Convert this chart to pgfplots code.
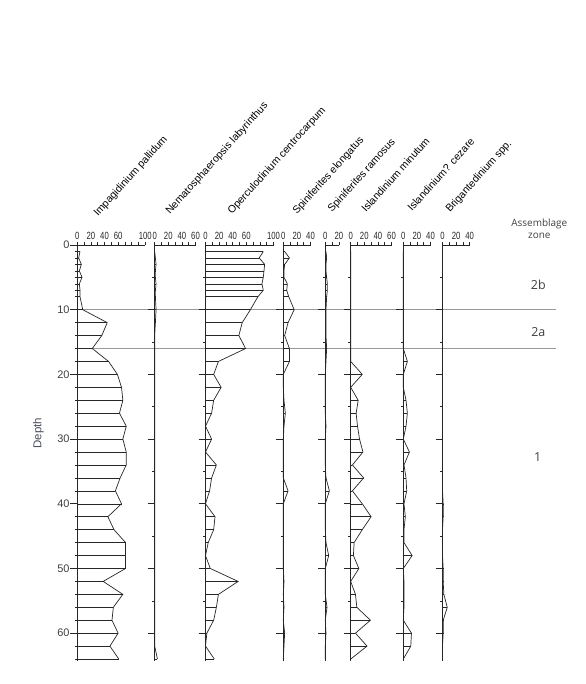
\documentclass[border=0pt]{standalone}
\usepackage{pgfplots}
\pgfplotsset{compat=1.18}
\usepackage{pgfplotstable}
\usepackage{fontspec}
\setmainfont{Liberation Sans}
\newfontfamily\narrow[FakeStretch=0.74]{Liberation Sans}
\newfontfamily\zonefont{Open Sans}
\definecolor{depthcol}{RGB}{72,76,92}

\pgfplotstableread{
depth imp nem ope spe spr ism isc bri
1  4  0  85 2  1   0   0  0
2  2  1  79 9  2   0   0  0
3  6  2  87 2  1   0   0  0
4  3  1  86 1  1   0   0  0
5  7  1  85 1  2   0   0  0
6  3  2  83 6  3   0   0  0
7  4  1  85 5  3   0   0  0
8  4  1  77 8  2   0   0  0
10 8  2  66 16 1   0   0  0
12 44 1  54 7  1   0   0  0
14 36 0  49 2  1   0   0  0
16 22 0  59 9  2   0   0  0
18 46 0  19 9  1   0   6  0
20 59 0  12 0  0   17  0  0
22 65 0  23 0  0   0   0  0
24 67 0  12 1  0   11  4  0
26 62 0  9  3  0   8   6  0
28 72 0  0  1  1   10  4  0
30 67 0  9  0  0   13  0  0
32 72 0  0  0  0   18  9  0
34 72 0  16 0  0   2.5 1  0
36 63 0  9  0  1   19  4  0
38 56 0  6  7  6   2.5 5  0
40 65 0  0  0  0   17  1  1
42 45 0  14 0  0   30  3  1
44 54 0  12 0  0   17  1  0
46 71 0  4  0  1   5   1  0
48 71 0  0  0  5   4   13 0
50 71 0  7  0  0   12  0  1
52 38 0  48 1  0   0   1  1
54 67 0  19 0  0   7   1  2
56 53 0  16 1  2.5 9   1  7
58 51 0  12 0  0   29  0  1
60 60 0  2  2  1   7   12 1
62 48 0  0  1  0   24  11 0
64 61 4  13 0  0   0   0  0
}\data

\pgfplotsset{
  panel/.style={
    scale only axis, y dir=reverse, ymin=0, ymax=64.3, height=416bp, xmin=0,
    anchor=north west,
    axis x line*=top, axis y line*=left,
    axis line style={black!85, line width=0.7bp},
    tick align=outside,
    xtick style={black!85, line width=0.6bp, /pgfplots/major tick length=3bp},
    ytick style={black!85, line width=0.6bp, /pgfplots/major tick length=7bp, /pgfplots/minor tick length=2.5bp},
    ytick={10,20,...,60}, minor ytick={5,15,...,55}, yticklabels={},
    x tick label style={font=\narrow\fontsize{10.5}{10.5}\selectfont, text=black!85, inner sep=1bp},
    clip=false,
  },
  comb/.style={xcomb, black!85, line width=0.55bp},
  curve/.style={black!85, line width=0.7bp},
}

\begin{document}
\begin{tikzpicture}
\useasboundingbox (0bp,0bp) rectangle (586bp,684bp);

% zone lines
\draw[black!40, line width=0.6bp] (73bp,374.3bp) -- (556bp,374.3bp);
\draw[black!40, line width=0.6bp] (77bp,335.5bp) -- (556bp,335.5bp);

% 1 Impagidinium pallidum
\begin{axis}[panel, at={(77.3bp,439bp)}, width=68bp, xmax=100,
  xtick={0,10,...,100}, xticklabels={0,,20,,40,,60,,,,100},
  ytick={0,10,...,60}, yticklabels={0,10,20,30,40,50,60},
  minor ytick={1,2,3,4,5,6,7,8,12,14,16,18,22,24,26,28,32,34,36,38,42,44,46,48,52,54,56,58,62,64},
  y tick label style={font=\fontsize{11}{11}\selectfont, text=black!75}]
\addplot[comb] table[x=imp,y=depth]{\data};
\addplot[curve] table[x=imp,y=depth]{\data};
\end{axis}

% 2 Nematosphaeropsis labyrinthus
\begin{axis}[panel, at={(154.7bp,439bp)}, width=40.8bp, xmax=60,
  xtick={0,10,...,60}, xticklabels={0,,20,,40,,60}]
\addplot[comb] table[x=nem,y=depth]{\data};
\addplot[curve] table[x=nem,y=depth]{\data};
\end{axis}

% 3 Operculodinium centrocarpum
\begin{axis}[panel, at={(205.5bp,439bp)}, width=68bp, xmax=100,
  xtick={0,10,...,100}, xticklabels={0,,20,,40,,60,,,,100}]
\addplot[comb] table[x=ope,y=depth]{\data};
\addplot[curve] table[x=ope,y=depth]{\data};
\end{axis}

% 4 Spiniferites elongatus
\begin{axis}[panel, at={(283.3bp,439bp)}, width=27.2bp, xmax=40,
  xtick={0,10,...,40}, xticklabels={0,,20,,40}]
\addplot[comb] table[x=spe,y=depth]{\data};
\addplot[curve] table[x=spe,y=depth]{\data};
\end{axis}

% 5 Spiniferites ramosus
\begin{axis}[panel, at={(325.3bp,439bp)}, width=13.6bp, xmax=20,
  xtick={0,10,20}, xticklabels={0,,20}]
\addplot[comb] table[x=spr,y=depth]{\data};
\addplot[curve] table[x=spr,y=depth]{\data};
\end{axis}

% 6 Islandinium minutum
\begin{axis}[panel, at={(350.7bp,439bp)}, width=40.8bp, xmax=60,
  xtick={0,10,...,60}, xticklabels={0,,20,,40,,60}]
\addplot[comb] table[x=ism,y=depth]{\data};
\addplot[curve] table[x=ism,y=depth]{\data};
\end{axis}

% 7 Islandinium? cezare
\begin{axis}[panel, at={(403.3bp,439bp)}, width=27.2bp, xmax=40,
  xtick={0,10,...,40}, xticklabels={0,,20,,40}]
\addplot[comb] table[x=isc,y=depth]{\data};
\addplot[curve] table[x=isc,y=depth]{\data};
\end{axis}

% 8 Brigantedinium spp.
\begin{axis}[panel, at={(442.5bp,439bp)}, width=27.2bp, xmax=40,
  xtick={0,10,...,40}, xticklabels={0,,20,,40}]
\addplot[comb] table[x=bri,y=depth]{\data};
\addplot[curve] table[x=bri,y=depth]{\data};
\end{axis}

% taxon labels
\begin{scope}[every node/.style={rotate=48, anchor=base west, inner sep=0pt, font=\fontsize{10.5}{10.5}\selectfont, text=black}]
\node at (98bp,467bp) {Impagidinium pallidum};
\node at (170bp,469bp) {Nematosphaeropsis labyrinthus};
\node at (232bp,469bp) {Operculodinium centrocarpum};
\node at (297bp,469bp) {Spiniferites elongatus};
\node at (332bp,471bp) {Spiniferites ramosus};
\node at (366bp,471bp) {Islandinium minutum};
\node at (412bp,472bp) {Islandinium? cezare};
\node at (450bp,471bp) {Brigantedinium spp.};
\end{scope}

% depth label
\node[rotate=90, font=\fontsize{11.5}{11.5}\selectfont, text=depthcol] at (38.3bp,250.7bp) {Depth};

% zones
\begin{scope}[every node/.style={font=\zonefont\fontsize{10}{12}\selectfont, text=black!75, align=center}]
\node at (539.3bp,455.7bp) {Assemblage\\zone};
\node[font=\zonefont\fontsize{12.5}{12.5}\selectfont] at (538.3bp,399bp) {2b};
\node[font=\zonefont\fontsize{12.5}{12.5}\selectfont] at (538.3bp,352.3bp) {2a};
\node[font=\zonefont\fontsize{12.5}{12.5}\selectfont] at (537.7bp,227.3bp) {1};
\end{scope}
\end{tikzpicture}
\end{document}
